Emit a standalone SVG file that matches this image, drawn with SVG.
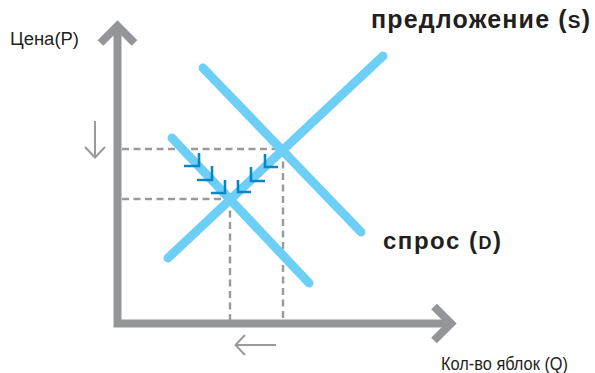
<svg xmlns="http://www.w3.org/2000/svg" width="595" height="373" viewBox="0 0 595 373">
<style>
.axis{fill:none;stroke:#939598;stroke-width:8;stroke-linejoin:miter;stroke-linecap:butt}
.dash{fill:none;stroke:#9a9a9c;stroke-width:2.4;stroke-dasharray:7 4.5}
.curve{fill:none;stroke:#6dcff6;stroke-width:9;stroke-linecap:round}
.chev{fill:none;stroke:#0a85c8;stroke-width:2.6;stroke-linecap:butt;stroke-linejoin:miter}
.garrow{fill:none;stroke:#9a9a9c;stroke-width:2;stroke-linejoin:miter}
.lbl{font-family:"Liberation Sans",Arial,sans-serif;fill:#231f20}
.hand{font-family:"Liberation Sans",Arial,sans-serif;fill:#231f20;font-weight:bold}
</style>
<rect width="595" height="373" fill="#ffffff"/>
<g id="guides">
  <path class="dash" d="M122 149 H283 M122 199 H230 M230 199 V320 M283 150 V320"/>
</g>
<g id="axes">
  <path class="axis" d="M117.5 29 V323.5 H451"/>
  <path class="axis" d="M100.5 43 L117.5 26 L134.5 43"/>
  <path class="axis" d="M434 306.5 L451 323.5 L434 340.5"/>
</g>
<g id="supply">
  <line class="curve" x1="168" y1="258" x2="383" y2="56"/>
</g>
<g id="demand-1">
  <line class="curve" x1="203" y1="68" x2="361" y2="232"/>
</g>
<g id="demand-2">
  <line class="curve" x1="172" y1="138" x2="309" y2="283"/>
</g>
<g id="connectors">
  <g id="shift-arrows">
    <path class="chev" d="M199 153 V166 H184 M212 166 V180 H197 M225 180 V193 H211"/>
    <path class="chev" d="M265 154 V167 H278 M251 167 V181 H265 M238 180 V192 H251"/>
  </g>
  <g id="direction-arrows">
    <path class="garrow" d="M95 121 V158 M85 147 L95 157.5 L105 147"/>
    <path class="garrow" d="M276 345 H236 M245 335 L235.5 345 L245 355"/>
  </g>
</g>
<g id="label-price">
  <text class="lbl" x="10" y="45" font-size="18" textLength="69" lengthAdjust="spacingAndGlyphs">Цена(P)</text>
</g>
<g id="label-quantity">
  <text class="lbl" x="441" y="370" font-size="18" textLength="127" lengthAdjust="spacingAndGlyphs">Кол-во яблок (Q)</text>
</g>
<g id="label-supply">
  <text class="hand" x="371" y="28" font-size="25" textLength="219" lengthAdjust="spacing">предложение (<tspan font-size="19">S</tspan>)</text>
</g>
<g id="label-demand">
  <text class="hand" x="383" y="249" font-size="24" textLength="118" lengthAdjust="spacing">спрос (<tspan font-size="18">D</tspan>)</text>
</g>
</svg>
